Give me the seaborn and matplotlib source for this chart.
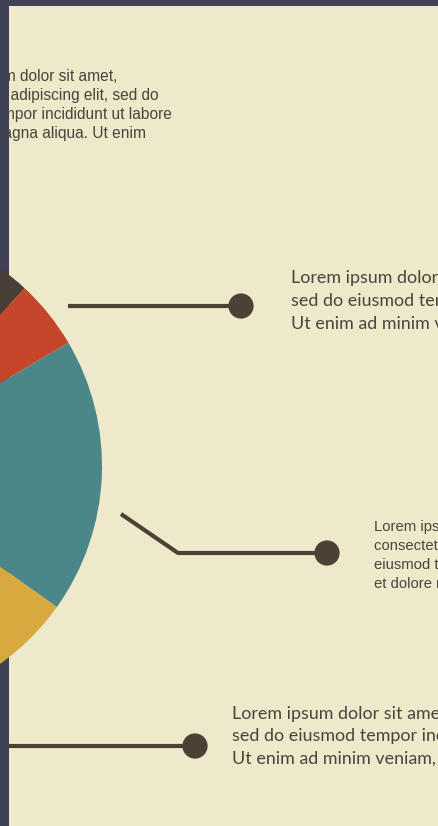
import numpy as np
import pandas as pd
import matplotlib
matplotlib.use("Agg")
import matplotlib.pyplot as plt
import seaborn as sns

# pie slices (degrees of the full circle), listed clockwise on screen from the teal slice
slice_names = ["teal", "yellow", "hidden", "dark", "red"]
slice_values = [66.0, 55.0, 95.0, 127.5, 16.5]
slice_colors = ["#4b8789", "#d8a93f", "#6f8f86", "#4a3f36", "#c5462a"]

# connector lines (x, y) and end dots
conn1_x = [68, 241]
conn1_y = [306, 306]
conn2_x = [121, 178, 327]
conn2_y = [514, 553, 553]
conn3_x = [0, 195]
conn3_y = [746, 746]
dots_x = [241, 327, 195]
dots_y = [306, 553, 746]

# text blocks
top_left_lines = ["Lorem ipsum dolor sit amet,",
                  "consectetur adipiscing elit, sed do",
                  "eiusmod tempor incididunt ut labore",
                  "et dolore magna aliqua. Ut enim"]
block1_lines = ["Lorem ipsum dolor sit amet, consectetur adipiscing elit,",
                "sed do eiusmod tempor incididunt ut labore et dolore",
                "Ut enim ad minim veniam, quis nostrud exercitation"]
block2_lines = top_left_lines
block3_lines = ["Lorem ipsum dolor sit amet, consectetur adipiscing elit,",
                "sed do eiusmod tempor incididunt ut labore et dolore",
                "Ut enim ad minim veniam, quis nostrud exercitation"]

BG = "#3e4254"
CREAM = "#efe9cb"
INK = "#4b4135"
TXT = "#4a443e"

sns.set_theme(style="white")
plt.rcParams['font.family'] = ['Liberation Sans', 'DejaVu Sans']

W, H = 439, 826
fig = plt.figure(figsize=(W / 100, H / 100), dpi=100)
fig.patch.set_facecolor(BG)
ax = fig.add_axes([9 / W, 0, (W - 9) / W, (H - 6) / H])
ax.set_facecolor(CREAM)

# pie, centre sits left of the visible panel
ax.pie(slice_values, colors=slice_colors, startangle=-30.5, counterclock=True,
       radius=243, center=(-141, 466), frame=True,
       wedgeprops=dict(linewidth=0))

for xs, ys in [(conn1_x, conn1_y), (conn2_x, conn2_y), (conn3_x, conn3_y)]:
    df = pd.DataFrame({'x': xs, 'y': ys})
    sns.lineplot(data=df, x='x', y='y', sort=False, estimator=None,
                 color=INK, linewidth=3, ax=ax, solid_capstyle='butt')
sns.scatterplot(x=dots_x, y=dots_y, s=330, color=INK, edgecolor='none', ax=ax, zorder=5)

ax.set_aspect('auto')
ax.set_xlim(9, W)
ax.set_ylim(H, 6)
ax.set_xticks([])
ax.set_yticks([])
ax.set_xlabel('')
ax.set_ylabel('')
for s in ax.spines.values():
    s.set_visible(False)

# top-left block (clipped by the panel edge)
for i, line in enumerate(top_left_lines):
    ax.text(-74, 81 + i * 19, line, fontsize=11.2, color=TXT, va='baseline',
            ha='left', clip_on=True)

for i, line in enumerate(block2_lines):
    ax.text(374, 531 + i * 19, line, fontsize=10.7, color=TXT, va='baseline', ha='left')

for i, line in enumerate(block1_lines):
    ax.text(291, 283 + i * 23, line, fontsize=12.9, color=TXT, va='baseline',
            ha='left', family=['Lato', 'DejaVu Sans'])

for i, line in enumerate(block3_lines):
    ax.text(232, 719 + i * 22.5, line, fontsize=12.9, color=TXT, va='baseline',
            ha='left', family=['Lato', 'DejaVu Sans'])

fig.savefig("out.png", dpi=100, facecolor=BG)
